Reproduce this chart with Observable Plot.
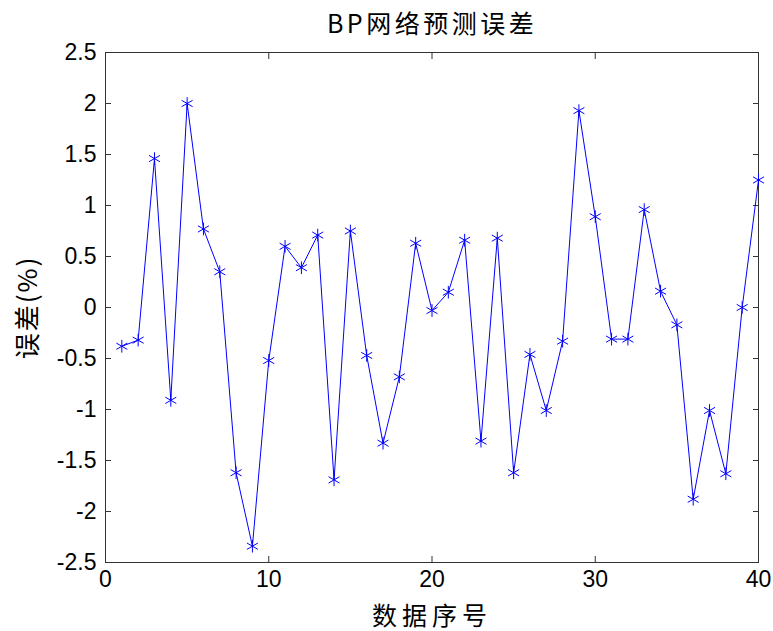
<!DOCTYPE html>
<html>
<head>
<meta charset="utf-8">
<script src="https://cdn.jsdelivr.net/npm/d3@7"></script>
<script src="https://cdn.jsdelivr.net/npm/@observablehq/plot@0.6"></script>
<style>
  body { margin: 0; background: #fff; }
  svg { font-family: "Liberation Sans", Arial, "Noto Sans CJK SC", sans-serif; }
</style>
</head>
<body>
<div id="chart"></div>
<script>
const index = d3.range(1, 41);
const errors = [
  -0.38, -0.32, 1.46, -0.91, 2.00, 0.77, 0.35, -1.62, -2.34, -0.52,
   0.60, 0.39, 0.71, -1.69, 0.75, -0.47, -1.33, -0.68, 0.63, -0.03,
   0.15, 0.66, -1.31, 0.68, -1.62, -0.46, -1.01, -0.33, 1.93, 0.89,
  -0.31, -0.31, 0.96, 0.16, -0.17, -1.88, -1.01, -1.63, 0.00, 1.25
];
const xTicks = [0, 10, 20, 30, 40];
const yTicks = [-2.5, -2, -1.5, -1, -0.5, 0, 0.5, 1, 1.5, 2, 2.5];
const titleText = "BP网络预测误差";
const xLabel = "数据序号";
const yLabel = "误差(%)";

const data = index.map((i, k) => ({x: i, y: errors[k]}));
const cjk = '"Noto Sans CJK SC", sans-serif';

const chart = Plot.plot({
  width: 773,
  height: 631,
  marginLeft: 105,
  marginRight: 15,
  marginTop: 52,
  marginBottom: 69,
  style: {fontSize: "23px", fontFamily: '"Liberation Sans", Arial, sans-serif', color: "#000", background: "#fff"},
  x: {domain: [0, 40], ticks: xTicks, label: null},
  y: {domain: [-2.5, 2.5], ticks: yTicks, label: null},
  marks: [
    Plot.frame({stroke: "#333", strokeWidth: 1}),
    Plot.axisX({ticks: xTicks, tickSize: -6, tickPadding: 14, anchor: "bottom", label: null, stroke: "#333", tickFormat: d => d}),
    Plot.axisX({ticks: xTicks, tickSize: -6, anchor: "top", label: null, text: null, stroke: "#333"}),
    Plot.axisY({ticks: yTicks, tickSize: -6, tickPadding: 15, anchor: "left", label: null, stroke: "#333", tickFormat: d => d}),
    Plot.axisY({ticks: yTicks, tickSize: -6, anchor: "right", label: null, text: null, stroke: "#333"}),
    Plot.line(data, {x: "x", y: "y", stroke: "#0000ff", strokeWidth: 1}),
    Plot.dot(data, {x: "x", y: "y", symbol: "asterisk", r: 6, stroke: "#0000ff", strokeWidth: 1}),
    Plot.text([titleText], {className: "ttl", frameAnchor: "top", lineAnchor: "middle", dy: -28, text: d => d, fontSize: 25, fontFamily: cjk, fill: "#000"}),
    Plot.text([xLabel], {className: "xlab", frameAnchor: "bottom", lineAnchor: "middle", dy: 54, text: d => d, fontSize: 25, fontFamily: cjk, fill: "#000"}),
    Plot.text([yLabel], {className: "ylab", frameAnchor: "left", textAnchor: "middle", lineAnchor: "middle", dx: -77, rotate: -90, text: d => d, fontSize: 26, fontFamily: cjk, fill: "#000"})
  ]
});
d3.select(chart).selectAll(".ttl text").attr("letter-spacing", "3.5px");
d3.select(chart).selectAll(".xlab text").attr("letter-spacing", "5px");
d3.select(chart).selectAll(".ylab text").attr("letter-spacing", "2px");
document.getElementById("chart").appendChild(chart);
</script>
</body>
</html>
